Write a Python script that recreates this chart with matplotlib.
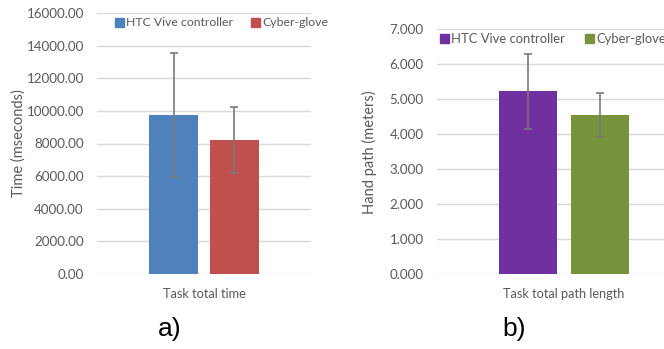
import matplotlib
matplotlib.use("Agg")
import matplotlib.pyplot as plt
from matplotlib.patches import Patch

# Data
series = ["HTC Vive controller", "Cyber-glove"]

time_category = "Task total time"
time_means = [9750, 8215]
time_errs = [3820, 2010]
time_ticks = [0, 2000, 4000, 6000, 8000, 10000, 12000, 14000, 16000]

path_category = "Task total path length"
path_means = [5.22, 4.536]
path_errs = [1.07, 0.62]
path_ticks = [0, 1, 2, 3, 4, 5, 6, 7]

W, H = 664, 349
DPI = 100
TEXT = "#595959"
GRID = "#D9D9D9"
FONT = "Lato"

fig = plt.figure(figsize=(W / DPI, H / DPI), dpi=DPI)
fig.patch.set_facecolor("white")


def px_axes(left, right, top, bottom):
    return fig.add_axes([left / W, (H - bottom) / H, (right - left) / W, (bottom - top) / H])


def draw_panel(ax, means, errs, colors, ticks, fmt, ylabel, xlabel, ylim):
    offsets = [-0.285, 0.285]
    width = 0.458
    for off, m, e, c in zip(offsets, means, errs, colors):
        ax.bar(off, m, width=width, color=c, zorder=2)
        ax.errorbar(off, m, yerr=e, fmt="none", ecolor="#7a7a7a", elinewidth=1.2,
                    capsize=2.8, capthick=1.2, zorder=3)
    ax.set_xlim(-1, 1)
    ax.set_ylim(*ylim)
    ax.set_yticks(ticks)
    ax.set_yticklabels([fmt.format(t) for t in ticks], fontsize=9.6, color=TEXT, family=FONT)
    ax.set_xticks([0])
    ax.set_xticklabels([xlabel], fontsize=9.2, color=TEXT, family=FONT)
    ax.tick_params(axis="y", length=0, pad=9.5)
    ax.tick_params(axis="x", length=0, pad=10)
    for s in ax.spines.values():
        s.set_visible(False)
    ax.yaxis.grid(True, color=GRID, linewidth=1, zorder=0)
    ax.set_axisbelow(True)
    ax.set_ylabel(ylabel, fontsize=10.5, color=TEXT, family=FONT)
    ax.yaxis.label.set_va("center")


def add_legend(ax, colors, x_left, y_center, size, hlen, colsp):
    ax.legend(handles=[Patch(color=c, label=s) for c, s in zip(colors, series)],
              loc="center left", bbox_to_anchor=(x_left / W, 1 - y_center / H),
              bbox_transform=fig.transFigure, ncol=2, frameon=False,
              borderpad=0, borderaxespad=0,
              handlelength=hlen, handleheight=hlen, handletextpad=0.18,
              columnspacing=colsp, prop={"family": FONT, "size": size}, labelcolor=TEXT)


# Panel a
ax_a = px_axes(97, 311, 13, 274)
colors_a = ["#4F81BD", "#C0504D"]
draw_panel(ax_a, time_means, time_errs, colors_a, time_ticks, "{:.2f}",
           "Time (mseconds)", time_category, (0, 16000))
ax_a.yaxis.set_label_coords(19 / W, 1 - 143 / H, transform=fig.transFigure)
add_legend(ax_a, colors_a, 115, 23, 8.8, 0.74, 1.45)

# Panel b
ax_b = px_axes(437, 691, 28.7, 274)
colors_b = ["#7030A0", "#77933C"]
draw_panel(ax_b, path_means, path_errs, colors_b, path_ticks, "{:.3f}",
           "Hand path (meters)", path_category, (0, 7))
ax_b.yaxis.set_label_coords(369 / W, 1 - 152 / H, transform=fig.transFigure)
add_legend(ax_b, colors_b, 440, 39, 9.4, 0.69, 1.5)

# Panel captions
fig.text(170 / W, 1 - 329 / H, "a)", fontsize=19, family="Liberation Sans", ha="center", va="center")
fig.text(514 / W, 1 - 329 / H, "b)", fontsize=19, family="Liberation Sans", ha="center", va="center")

fig.savefig("out.png", dpi=DPI)
